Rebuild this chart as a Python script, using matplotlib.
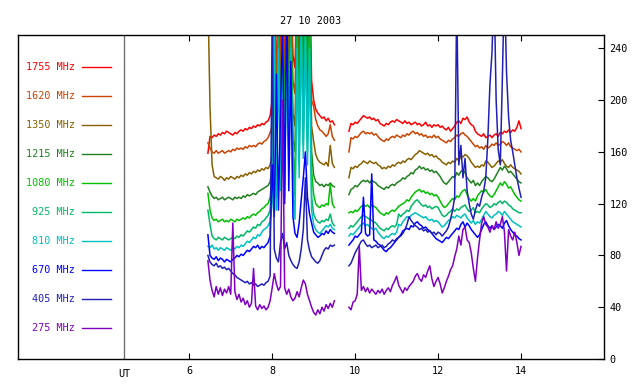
import numpy as np
import matplotlib
matplotlib.use("Agg")
import matplotlib.pyplot as plt

plt.rcParams['font.family'] = ['DejaVu Sans Mono']

# tiempo en horas UT (dos tramos de registro, muestreo 0.05 h)
t1 = np.round(6.45 + 0.05 * np.arange(62), 2)
t2 = np.round(9.85 + 0.05 * np.arange(84), 2)

frecuencias = ["1755 MHz", "1620 MHz", "1350 MHz", "1215 MHz", "1080 MHz",
               "925 MHz", "810 MHz", "670 MHz", "405 MHz", "275 MHz"]
colores = ["#ff0000", "#c84400", "#886000", "#208020", "#00c000",
           "#00b868", "#00c0c0", "#0000ff", "#2020b8", "#8000c0"]

f1755_a = [159,172,171,173,172,174,173,175,174,176,
           175,174,173,175,174,176,177,176,178,177,
           179,178,180,179,181,180,182,181,183,184,
           188,200,300,205,300,230,300,215,300,250,
           300,235,225,300,240,300,260,300,240,300,
           215,200,193,190,188,186,187,184,186,183,
           184,181]
f1755_b = [176,182,181,183,182,184,186,188,187,186,
           187,185,186,184,185,182,181,180,182,181,
           183,184,183,185,184,183,182,184,182,183,
           181,182,183,181,182,180,181,183,180,181,
           179,181,180,181,179,180,178,177,179,176,
           178,180,183,184,182,186,185,187,183,181,
           180,176,174,173,172,174,171,172,173,171,
           173,174,172,175,174,176,175,177,175,177,
           176,179,184,178]

f1620_a = [167,163,160,159,161,159,160,161,159,160,
           161,160,162,161,163,162,163,162,164,163,
           165,164,165,164,166,167,166,168,169,171,
           175,180,300,190,290,200,300,195,300,230,
           290,215,205,290,215,300,240,300,225,290,
           200,195,185,180,177,176,174,172,174,181,
           172,169]
f1620_b = [160,171,170,172,171,173,175,176,174,175,
           174,175,173,174,172,170,169,168,170,169,
           171,172,171,173,172,171,173,172,174,173,
           175,176,174,175,173,174,172,173,171,172,
           171,173,171,172,170,169,168,167,169,168,
           170,171,173,172,174,175,173,172,170,168,
           166,164,165,163,164,162,165,163,164,166,
           165,167,165,166,168,167,165,167,164,163,
           162,161,162,160]

f1350_a = [280,195,150,141,140,139,141,140,138,140,
           139,141,140,139,141,140,142,141,143,142,
           144,143,145,144,146,145,147,146,148,147,
           150,158,290,165,280,180,300,175,290,200,
           280,190,180,280,195,300,210,290,200,280,
           180,168,158,154,152,151,150,152,149,165,
           151,148]
f1350_b = [140,148,147,149,148,150,151,153,152,151,
           153,152,151,152,150,149,147,148,147,149,
           148,150,149,151,152,151,153,152,154,155,
           154,156,158,159,161,160,159,158,159,157,
           158,156,157,155,154,152,151,150,152,151,
           153,152,155,153,157,156,158,157,155,152,
           150,148,149,148,150,149,153,152,150,148,
           149,151,153,152,154,151,149,148,150,148,
           147,146,145,143]

f1215_a = [133,129,126,124,125,123,124,125,123,124,
           125,124,123,125,124,125,124,126,125,127,
           126,127,128,127,129,130,131,132,133,134,
           137,148,280,150,270,165,290,160,280,185,
           270,170,160,270,175,290,190,280,185,270,
           160,142,137,136,134,135,133,135,134,136,
           134,133]
f1215_b = [127,131,132,134,133,135,137,138,137,138,
           136,138,137,136,134,133,132,131,133,132,
           134,135,134,136,137,138,140,139,141,142,
           144,143,146,147,149,147,148,146,147,145,
           146,144,145,143,141,138,136,135,137,139,
           141,140,144,142,145,146,144,140,138,136,
           138,134,136,134,137,139,141,140,138,137,
           139,142,145,148,146,149,147,144,145,143,
           141,139,137,136]

f1080_a = [128,115,109,107,108,106,107,108,106,107,
           106,108,107,106,108,107,108,109,108,110,
           109,111,112,111,113,114,116,117,119,120,
           125,140,270,135,260,150,280,145,270,170,
           260,160,140,260,160,280,175,270,170,260,
           145,127,120,118,117,119,118,120,119,135,
           120,117]
f1080_b = [113,114,113,115,114,116,118,119,118,119,
           117,119,118,117,115,113,112,111,113,112,
           114,115,114,116,118,119,120,121,123,122,
           125,127,129,130,131,129,130,128,129,127,
           128,126,127,125,122,119,117,118,120,122,
           124,123,126,125,128,130,131,127,124,122,
           124,122,126,128,130,129,131,128,126,125,
           127,130,133,136,134,137,135,132,133,130,
           127,125,123,122]

f925_a = [115,104,95,93,92,94,93,92,94,93,
          92,93,94,93,95,94,96,95,97,99,
          98,100,102,101,104,103,106,107,109,111,
          115,135,260,125,250,140,270,135,260,160,
          250,150,125,250,150,270,165,260,160,250,
          125,112,108,106,105,107,106,108,107,112,
          105,103]
f925_b = [101,103,102,104,106,108,110,111,110,109,
          108,107,106,105,103,101,100,99,101,100,
          102,103,102,104,112,110,112,113,115,114,
          118,120,122,123,121,119,118,119,117,118,
          116,117,118,117,114,111,110,111,113,114,
          116,114,116,115,117,118,119,116,114,115,
          117,113,114,113,116,118,120,119,117,118,
          120,119,121,122,120,122,121,119,118,116,
          115,114,113,113]

f810_a = [87,86,88,85,86,84,86,85,84,86,
          85,84,86,85,87,86,88,87,89,91,
          90,92,94,93,96,95,98,100,101,103,
          106,120,250,115,240,130,260,125,250,150,
          240,130,108,240,140,260,155,250,150,240,
          115,104,100,98,97,99,101,103,102,104,
          101,100]
f810_b = [95,97,96,98,100,102,104,105,103,104,
          102,101,100,101,98,96,94,93,95,94,
          96,97,96,98,104,103,106,108,110,109,
          111,112,113,112,111,110,109,110,108,107,
          108,106,107,106,104,102,103,105,107,108,
          110,109,111,110,109,111,112,109,107,105,
          107,104,106,105,108,111,114,112,110,109,
          111,112,114,113,111,114,112,110,108,106,
          105,104,103,102]

f670_a = [96,80,78,77,79,76,78,77,75,77,
          76,75,77,78,80,79,81,80,82,84,
          83,85,87,86,88,85,87,86,88,90,
          95,150,110,220,115,190,260,120,280,130,
          230,110,97,94,105,123,140,160,125,112,
          105,98,96,94,95,97,96,99,97,100,
          98,97]
f670_b = [88,90,92,95,94,96,98,125,97,95,
          96,143,92,91,89,88,86,84,83,85,
          86,88,90,92,94,96,99,100,101,100,
          103,102,105,106,104,103,101,102,100,99,
          97,95,93,92,91,90,92,94,93,95,
          97,99,101,100,104,106,102,105,103,100,
          98,96,94,96,100,104,106,103,101,103,
          100,102,104,103,101,105,107,103,100,98,
          96,95,93,92]

f405_a = [80,75,73,72,74,71,72,70,71,69,
          70,68,66,65,63,62,61,60,59,60,
          58,59,57,58,56,57,58,57,59,60,
          64,270,85,78,75,90,97,85,90,80,
          76,73,71,70,75,85,100,140,92,84,
          79,77,75,74,76,80,84,86,85,88,
          87,88]
f405_b = [72,74,78,82,85,88,91,92,89,87,
          88,86,87,88,86,87,88,86,87,89,
          90,92,91,93,94,95,97,100,104,110,
          107,105,103,102,100,101,99,100,98,99,
          97,98,96,98,97,95,97,99,102,108,
          115,125,280,150,165,140,155,130,120,112,
          108,115,120,118,125,130,140,170,212,237,
          290,200,162,150,217,290,222,187,169,160,
          150,140,132,125]

f275_a = [76,61,53,48,56,50,55,49,54,51,
          56,50,105,52,46,50,44,47,42,45,
          40,43,70,41,38,42,39,41,38,40,
          45,55,66,58,53,56,200,55,50,54,
          48,45,47,52,48,55,61,58,50,45,
          40,36,34,38,35,40,37,42,39,43,
          40,45]
f275_b = [40,38,44,45,50,87,53,56,52,55,
          51,54,52,50,53,51,54,50,53,55,
          52,57,60,64,57,54,51,55,53,56,
          58,60,64,66,62,60,65,63,68,72,
          62,56,60,63,58,51,55,60,64,69,
          72,79,85,95,88,100,102,92,90,82,
          70,60,78,92,105,110,104,102,98,103,
          100,106,101,104,110,98,68,100,95,92,
          98,90,80,87]

tramo_a = [f1755_a, f1620_a, f1350_a, f1215_a, f1080_a,
           f925_a, f810_a, f670_a, f405_a, f275_a]
tramo_b = [f1755_b, f1620_b, f1350_b, f1215_b, f1080_b,
           f925_b, f810_b, f670_b, f405_b, f275_b]

yticks = [0, 40, 80, 120, 160, 200, 240]
xticks = [6, 8, 10, 12, 14]
ut_x = 4.43

fig = plt.figure(figsize=(6.4, 3.84), dpi=100)
ax = fig.add_axes([0.0281, 0.0651, 0.9156, 0.8437])

for ya, yb, c in zip(tramo_a, tramo_b, colores):
    ax.plot(t1, ya, color=c, lw=1.1)
    ax.plot(t2, yb, color=c, lw=1.1)

ax.axvline(ut_x, color="#707070", lw=1)

# leyenda a mano, a la izquierda de la linea UT
for k, (nombre, c) in enumerate(zip(frecuencias, colores)):
    yy = 0.900 - k * 0.0895
    ax.text(0.0975, yy, nombre, color=c, fontsize=7.3, ha="right", va="center",
            transform=ax.transAxes)
    ax.plot([0.109, 0.158], [yy, yy], color=c, lw=1, transform=ax.transAxes)

ax.set_xlim(1.87, 16.0)
ax.set_ylim(0, 250.3)
ax.set_xticks(xticks)
ax.set_xticklabels([str(v) for v in xticks])
ax.set_yticks(yticks)
ax.yaxis.tick_right()
ax.tick_params(axis="x", direction="in", top=True, bottom=True, length=4,
               labelsize=7.3, pad=5)
ax.tick_params(axis="y", direction="in", left=False, right=True, length=4,
               labelsize=7.3, pad=4)
ax.text(ut_x, -0.03, "UT", fontsize=7.3, ha="center", va="top",
        transform=ax.get_xaxis_transform())
for s in ax.spines.values():
    s.set_linewidth(1)

ax.set_title("27 10 2003", fontsize=7.3, pad=8)

fig.savefig("out.png", dpi=100)
